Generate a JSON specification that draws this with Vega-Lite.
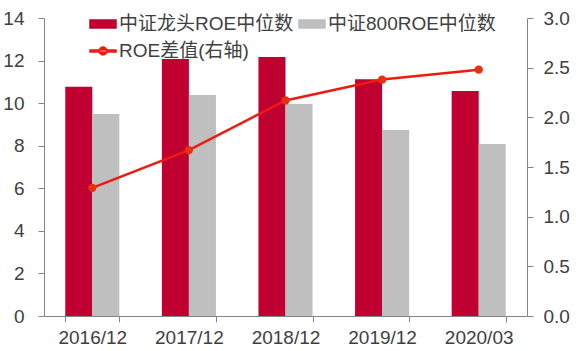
{
  "$schema": "https://vega.github.io/schema/vega-lite/v6.json",
  "width": 483,
  "height": 298,
  "autosize": {"type": "none"},
  "padding": {"left": 44, "top": 18, "right": 49, "bottom": 35},
  "background": "white",
  "config": {
    "view": {"stroke": null},
    "font": "Liberation Sans, Noto Sans CJK SC",
    "axis": {
      "labelFont": "Liberation Sans, Noto Sans CJK SC",
      "labelFontSize": 19,
      "labelColor": "#404040",
      "domainColor": "#868686",
      "tickColor": "#868686",
      "domainWidth": 1,
      "tickWidth": 1,
      "grid": false,
      "title": null
    }
  },
  "datasets": {
    "bars": [
      {"date": "2016/12", "series": "中证龙头ROE中位数", "value": 10.77},
      {"date": "2016/12", "series": "中证800ROE中位数", "value": 9.49},
      {"date": "2017/12", "series": "中证龙头ROE中位数", "value": 12.07},
      {"date": "2017/12", "series": "中证800ROE中位数", "value": 10.38},
      {"date": "2018/12", "series": "中证龙头ROE中位数", "value": 12.17},
      {"date": "2018/12", "series": "中证800ROE中位数", "value": 9.96},
      {"date": "2019/12", "series": "中证龙头ROE中位数", "value": 11.12},
      {"date": "2019/12", "series": "中证800ROE中位数", "value": 8.74},
      {"date": "2020/03", "series": "中证龙头ROE中位数", "value": 10.57},
      {"date": "2020/03", "series": "中证800ROE中位数", "value": 8.08}
    ],
    "line": [
      {"date": "2016/12", "series": "ROE差值(右轴)", "diff": 1.29},
      {"date": "2017/12", "series": "ROE差值(右轴)", "diff": 1.67},
      {"date": "2018/12", "series": "ROE差值(右轴)", "diff": 2.17},
      {"date": "2019/12", "series": "ROE差值(右轴)", "diff": 2.38},
      {"date": "2020/03", "series": "ROE差值(右轴)", "diff": 2.48}
    ]
  },
  "layer": [
    {
      "data": {"name": "bars"},
      "mark": {"type": "bar"},
      "encoding": {
        "x": {
          "field": "date",
          "type": "nominal",
          "sort": null,
          "scale": {"paddingInner": 0.44, "paddingOuter": 0.22},
          "axis": {
            "labelAngle": 0,
            "tickBand": "extent",
            "tickSize": 6,
            "labelPadding": 6
          }
        },
        "xOffset": {
          "field": "series",
          "type": "nominal",
          "sort": ["中证龙头ROE中位数", "中证800ROE中位数"],
          "scale": {"paddingInner": 0, "paddingOuter": 0}
        },
        "y": {
          "field": "value",
          "type": "quantitative",
          "scale": {"domain": [0, 14], "nice": false},
          "axis": {
            "orient": "left",
            "values": [0, 2, 4, 6, 8, 10, 12, 14],
            "tickSize": 6,
            "labelPadding": 14
          }
        },
        "color": {
          "field": "series",
          "type": "nominal",
          "scale": {
            "domain": ["中证龙头ROE中位数", "中证800ROE中位数", "ROE差值(右轴)"],
            "range": ["#C00030", "#BFBFBF", "#EE1A12"]
          },
          "legend": {
            "orient": "none",
            "legendX": 45,
            "legendY": -8,
            "direction": "horizontal",
            "columns": 2,
            "title": null,
            "padding": 0,
            "labelFont": "Liberation Sans, Noto Sans CJK SC",
            "labelFontSize": 19,
            "labelColor": "#404040",
            "labelLimit": 400,
            "labelOffset": 2,
            "symbolSize": 676,
            "columnPadding": 2,
            "rowPadding": 3,
            "encode": {
              "symbols": {
                "update": {
                  "shape": {"signal": "datum.value === 'ROE差值(右轴)' ? 'M-1,-0.07H1V0.07H-1Z M-0.3,0A0.3,0.3 0 1,0 0.3,0A0.3,0.3 0 1,0 -0.3,0Z' : 'M-1,-0.31H1V0.31H-1Z'"},
                  "fill": {"scale": "color", "field": "value"},
                  "stroke": {"value": "transparent"},
                  "opacity": {"value": 1},
                  "fillOpacity": {"value": 1}
                }
              }
            }
          }
        }
      }
    },
    {
      "data": {"name": "line"},
      "encoding": {
        "x": {"field": "date", "type": "nominal", "sort": null},
        "y": {
          "field": "diff",
          "type": "quantitative",
          "scale": {"domain": [0, 3], "nice": false},
          "axis": {
            "orient": "right",
            "values": [0, 0.5, 1, 1.5, 2, 2.5, 3],
            "format": ".1f",
            "tickSize": 6,
            "labelPadding": 10
          }
        }
      },
      "layer": [
        {
          "mark": {"type": "line", "strokeWidth": 2.5},
          "encoding": {
            "color": {"field": "series", "type": "nominal"}
          }
        },
        {
          "mark": {"type": "point", "filled": true, "size": 70, "color": "#E83010", "opacity": 1}
        }
      ]
    }
  ],
  "resolve": {"scale": {"y": "independent"}}
}
